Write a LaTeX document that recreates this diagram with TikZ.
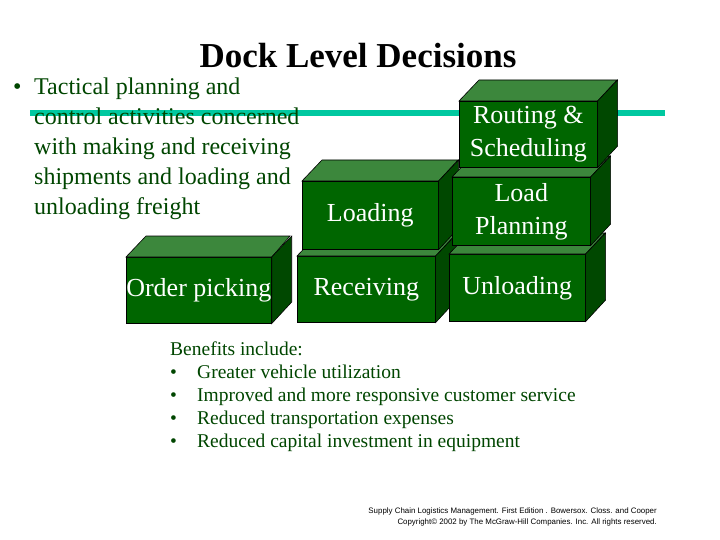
\documentclass[tikz,border=0pt]{standalone}
\usepackage{fontspec}
\setmainfont{Liberation Serif}
\newfontfamily\footfont{Liberation Sans}
\definecolor{front}{RGB}{0,102,0}
\definecolor{topc}{RGB}{60,135,60}
\definecolor{sidec}{RGB}{0,72,0}
\definecolor{txtg}{RGB}{0,70,0}
\definecolor{teal}{RGB}{0,200,160}
\tikzset{
  face/.style={rectangle,fill=front,draw=black,line width=0.6pt,inner sep=0pt,text=white,font=\fontsize{26}{33}\selectfont,align=center},
  facetop/.style={fill=topc,draw=black,line width=0.6pt},
  faceside/.style={fill=sidec,draw=black,line width=0.6pt},
  bodytxt/.style={anchor=west,text=txtg,font=\fontsize{24}{28}\selectfont,inner sep=0pt,text height=0.7em,text depth=0.2em},
  bentxt/.style={anchor=west,text=txtg,font=\fontsize{19.5}{22}\selectfont,inner sep=0pt,text height=0.7em,text depth=0.2em}
}
\newcommand{\mycube}[6]{%
  \node[face,minimum width=#4-#2,minimum height=#5-#3,anchor=north west] (#1) at (#2,#3) {#6};
  \draw[facetop] (#1.north west) -- ++(20,-21) -- ++(#4-#2,0) -- (#1.north east) -- cycle;
  \draw[faceside] (#1.north east) -- ++(20,-21) -- ++(0,#5-#3) -- (#1.south east) -- cycle;
}
\begin{document}
\begin{tikzpicture}[x=1pt,y=-1pt]
\useasboundingbox (0,0) rectangle (720,540);
\fill[white] (0,0) rectangle (720,540);
\draw[teal,line width=6pt] (30,113) coordinate (l1) -- (665,113) coordinate (l2);
\node[font=\fontsize{35}{40}\selectfont\bfseries] (title) at (358,56) {Dock Level Decisions};
\node[bodytxt] (b0) at (13,92) {•};
\node[bodytxt] (t1) at (34,92) {Tactical planning and};
\node[bodytxt] (t2) at (34,122) {control activities concerned};
\node[bodytxt] (t3) at (34,152) {with making and receiving};
\node[bodytxt] (t4) at (34,182) {shipments and loading and};
\node[bodytxt] (t5) at (34,212) {unloading freight};
\mycube{op}{126}{257}{270}{323}{Order picking}
\mycube{rc}{297}{256}{435}{322}{Receiving}
\mycube{ld}{302}{181}{438}{249}{Loading}
\mycube{ul}{449}{254}{585}{321}{Unloading}
\mycube{lp}{452}{177}{590}{245}{Load\\Planning}
\mycube{rs}{459}{101}{597}{167}{Routing \&\\Scheduling}
\node[bentxt] (bh) at (170,353) {Benefits include:};
\foreach \y/\t [count=\i] in {376/Greater vehicle utilization,399/Improved and more responsive customer service,422/Reduced transportation expenses,445/Reduced capital investment in equipment}{
  \node[bentxt] (bb\i) at (170,\y) {•};
  \node[bentxt] (bt\i) at (197,\y) {\t};
}
\node[anchor=east,align=right,inner sep=0pt,font=\footfont\fontsize{7.9}{11}\selectfont] (foot) at (657,517) {Supply Chain Logistics Management. First Edition . Bowersox. Closs. and Cooper\\Copyright© 2002 by The McGraw-Hill Companies. Inc. All rights reserved.};
\end{tikzpicture}
\end{document}
